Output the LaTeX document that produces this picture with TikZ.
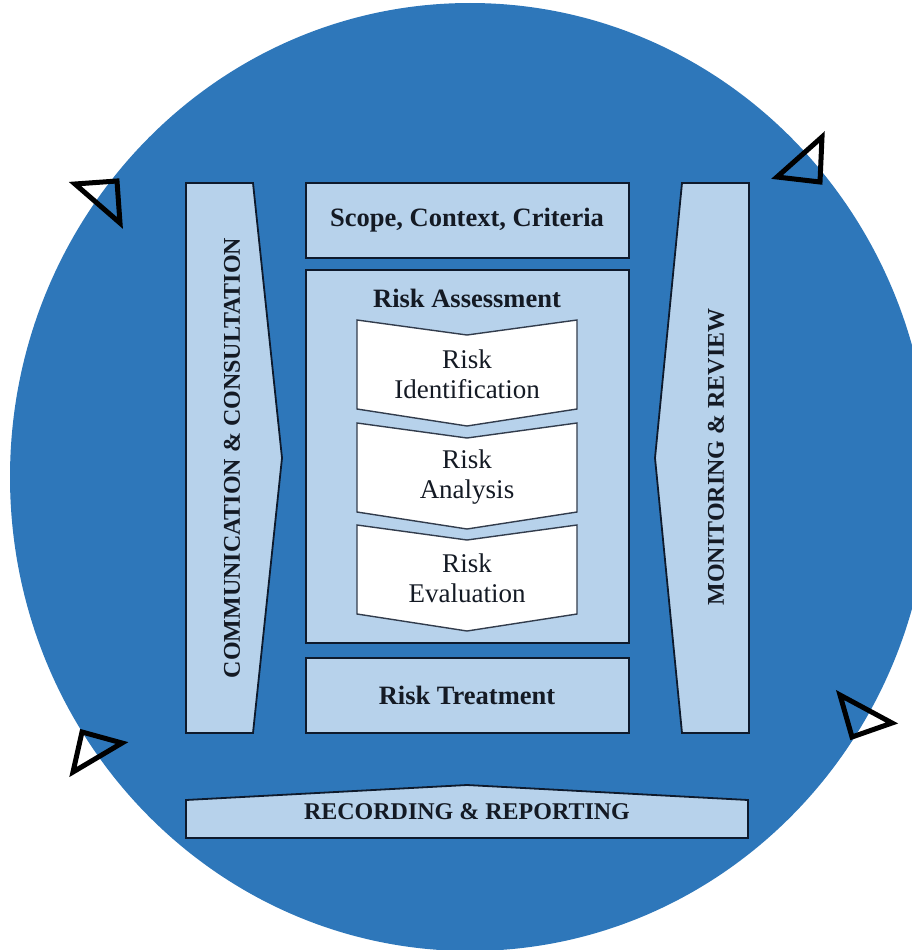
\documentclass[tikz,border=0pt]{standalone}
\usepackage{fontspec}
\setmainfont{Liberation Serif}
\definecolor{circblue}{HTML}{2E77BA}
\definecolor{panel}{HTML}{B7D2EB}
\definecolor{edge}{HTML}{0E1A2C}
\definecolor{txt}{HTML}{141A24}
\tikzset{
  panelbox/.style={fill=panel, draw=edge, line width=1.8pt, line join=miter},
  chev/.style={fill=white, draw=edge!85!white, line width=1.4pt, line join=miter},
  boldlbl/.style={font=\fontsize{26.5}{30}\selectfont\bfseries, text=txt, inner sep=0pt},
  capslbl/.style={font=\fontsize{24}{28}\selectfont\bfseries, text=txt, inner sep=0pt},
  reglbl/.style={font=\fontsize{27}{30}\selectfont, text=txt, align=center, inner sep=0pt},
  tri/.style={draw=black, line width=5pt, line join=miter, fill=none}
}
\begin{document}
\begin{tikzpicture}[x=1pt,y=-1pt]
\useasboundingbox (0,0) rectangle (912,950);
\begin{scope}
\clip (0,0) rectangle (912,950);
\fill[circblue] (470,477) ellipse [x radius=460pt, y radius=474pt];
\end{scope}
% side panels
\draw[panelbox] (186,183) -- (253,183) -- (282,458) -- (253,733) -- (186,733) -- cycle;
\draw[panelbox] (682,183) -- (749,183) -- (749,733) -- (682,733) -- (655,458) -- cycle;
% centre column
\draw[panelbox] (306,183) rectangle (629,258);
\draw[panelbox] (306,270) rectangle (629,643);
\draw[panelbox] (306,658) rectangle (629,733);
% chevrons
\foreach \t in {320,423,525}{
  \draw[chev] (357,\t) -- (467,\t+15) -- (577,\t) -- (577,\t+89) -- (467,\t+106) -- (357,\t+89) -- cycle;
}
% bottom bar
\draw[panelbox] (186,800) -- (467,785) -- (748,800) -- (748,838) -- (186,838) -- cycle;
% labels
\node[boldlbl] (scope) at (467,220) {Scope, Context, Criteria};
\node[boldlbl] (ra) at (467,298) {Risk Assessment};
\node[reglbl] (ri) at (467,374) {Risk\\Identification};
\node[reglbl] (ran) at (467,477) {Risk\\Analysis};
\node[reglbl] (rev) at (467,578) {Risk\\Evaluation};
\node[boldlbl] (rt) at (467,695) {Risk Treatment};
\node[capslbl, rotate=90] (cc) at (232,458) {COMMUNICATION \& CONSULTATION};
\node[capslbl, rotate=90] (mr) at (716,457) {MONITORING \& REVIEW};
\node[capslbl] (rr) at (467,812) {RECORDING \& REPORTING};
% rotation triangles
\draw[tri] (75,184) -- (117,181) -- (120,223) -- cycle;
\draw[tri] (822,137) -- (777,177) -- (820,182) -- cycle;
\draw[tri] (82,732) -- (122,743) -- (73,772) -- cycle;
\draw[tri] (840,695) -- (892,723) -- (852,737) -- cycle;
\end{tikzpicture}
\end{document}
